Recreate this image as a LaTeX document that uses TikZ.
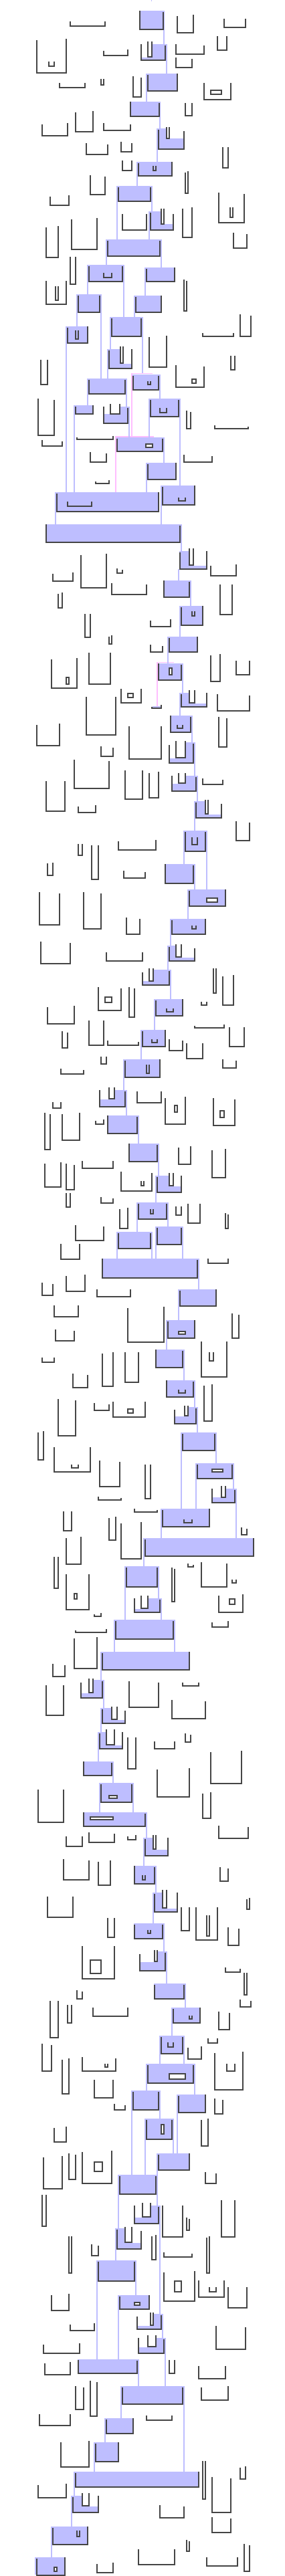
\documentclass[tikz,border=0pt]{standalone}
\usepackage{tikz}
\definecolor{dkgray}{HTML}{454545}
\definecolor{lblue}{HTML}{BEBEFF}
\definecolor{lpink}{HTML}{FFBEFF}
\pgfdeclarelayer{whlayer}
\pgfdeclarelayer{pklayer}
\pgfdeclarelayer{bglayer}
\pgfdeclarelayer{midlayer}
\pgfsetlayers{whlayer,pklayer,bglayer,midlayer,main}
\tikzset{
  ubr/.style={line width=2pt, draw=dkgray, line join=miter, line cap=butt},
  bline/.style={line width=1.33pt, draw=lblue},
  pline/.style={line width=1.33pt, draw=lpink},
  bfill/.style={fill=lblue}
}
\newcommand\myU[5]{\draw[ubr] (#1,#2)--(#1,#5)--(#3,#5)--(#3,#4);}
\newcommand\myR[4]{\draw[ubr,fill=white] (#1,#2) rectangle (#3,#4);}
\newcommand\myB[4]{\begin{pgfonlayer}{bglayer}\fill[bfill] (#1,#2) rectangle (#3,#4);\end{pgfonlayer}}
\newcommand\myW[4]{\begin{pgfonlayer}{midlayer}\fill[white] (#1,#2) rectangle (#3,#4);\end{pgfonlayer}}
\newcommand\myC[3]{\begin{pgfonlayer}{bglayer}\draw[bline] (#1,#2)--(#1,#3);\end{pgfonlayer}}
\begin{document}
\begin{tikzpicture}[x=0.333333pt,y=-0.333333pt]
\begin{pgfonlayer}{whlayer}
\fill[white] (0,0) rectangle (1278,11556);
\end{pgfonlayer}
\useasboundingbox (0,0) rectangle (1278,11556);
% ---------------- crop 1
\begin{scope}
\myC{680}{0}{5}
\myU{315}{96}{470}{96}{116}
\myB{625}{48}{737}{135} \myU{628}{48}{731}{54}{133}
\myC{735}{135}{198}
\myU{796}{72}{866}{66}{146}
\myU{1005}{84}{1101}{84}{122}
\myU{165}{180}{297}{174}{326} \myU{219}{276}{243}{276}{296}
\myU{465}{228}{573}{222}{248}
\myB{633}{198}{749}{270} \myW{633}{198}{683}{258} \myU{633}{198}{741}{204}{271} \myU{663}{186}{681}{186}{256}
\myC{747}{270}{330}
\myU{789}{198}{915}{204}{242}
\myU{975}{162}{1017}{162}{225}
\myU{789}{258}{861}{264}{302}
\myU{267}{372}{381}{372}{393}
\myU{453}{354}{465}{354}{381}
\myU{597}{342}{633}{348}{435}
\myB{655}{330}{797}{410} \myU{663}{336}{795}{330}{409}
\myC{657}{410}{456}
\myU{915}{372}{1035}{372}{447} \myR{945}{404}{993}{422}
\myB{583}{456}{719}{525} \myU{586}{456}{713}{462}{523}
\myC{717}{525}{575}
\myU{831}{462}{861}{462}{519}
\myU{339}{504}{417}{498}{590}
\myU{189}{558}{303}{552}{608}
\myU{465}{552}{585}{558}{584}
\myB{703}{575}{827}{670} \myW{747}{575}{827}{622} \myU{711}{582}{825}{588}{668} \myU{747}{570}{759}{570}{620}
\myC{705}{670}{726}
\myU{387}{642}{483}{648}{692}
\myU{543}{636}{591}{642}{680}
\myU{999}{660}{1023}{660}{752}
\myU{549}{720}{591}{720}{764}
\myB{613}{726}{773}{790} \myU{621}{732}{771}{726}{788} \myU{687}{744}{699}{744}{764}
\myC{615}{790}{834}
\myU{405}{786}{471}{792}{872}
\myU{831}{774}{843}{768}{866}
\myU{225}{882}{309}{876}{920}
\myB{523}{834}{683}{905} \myU{531}{840}{675}{840}{902}
\myC{525}{905}{1074} \myC{681}{905}{948}
\myB{667}{948}{779}{1035} \myW{723}{948}{779}{1005} \myU{675}{954}{777}{960}{1033} \myU{723}{935}{735}{935}{1005}
\myC{669}{1035}{1074}
\myU{819}{935}{861}{930}{1064}
\myU{981}{865}{1095}{870}{998} \myU{1031}{930}{1045}{930}{975}
\myU{549}{960}{657}{960}{1033}
\end{scope}
% ---------------- crop 2
\begin{scope}[yshift=-321pt]
\myU{207}{57}{261}{51}{192}
\myU{321}{21}{435}{15}{156}
\myU{1047}{81}{1107}{87}{150}
\myB{475}{111}{725}{187} \myU{483}{117}{717}{117}{186}
\myC{477}{187}{225} \myC{723}{187}{237}
\myU{315}{189}{339}{189}{312}
\myB{391}{225}{557}{300} \myU{399}{231}{549}{231}{299} \myU{465}{261}{501}{261}{282}
\myC{393}{300}{357} \myC{555}{300}{459}
\myB{649}{237}{785}{300} \myU{657}{243}{783}{237}{299}
\myC{651}{300}{363}
\myU{207}{297}{297}{297}{402} \myU{249}{321}{261}{321}{384}
\myU{825}{291}{837}{297}{432}
\myB{343}{357}{455}{438} \myU{351}{363}{447}{363}{437}
\myC{345}{438}{501} \myC{453}{438}{735}
\myB{601}{363}{725}{438} \myU{609}{369}{723}{363}{437}
\myC{603}{438}{459}
\myB{493}{459}{641}{546} \myU{501}{465}{633}{465}{545}
\myC{495}{546}{603} \myC{639}{546}{711}
\myU{909}{531}{1047}{531}{546}
\myU{1077}{447}{1125}{453}{546}
\myB{295}{501}{395}{577} \myU{303}{507}{393}{501}{576} \myU{339}{519}{351}{519}{558}
\myC{297}{577}{1245}
\myB{481}{603}{593}{690} \myW{539}{603}{593}{669} \myU{489}{609}{591}{603}{689} \myU{539}{591}{553}{591}{666}
\myC{483}{690}{735}
\myU{669}{549}{747}{543}{684}
\myU{183}{651}{213}{651}{762}
\myU{1035}{633}{1053}{633}{696}
\begin{pgfonlayer}{pklayer}
\draw[pline] (683,713)--(591,713)--(591,996);
\draw[pline] (689,996)--(519,996)--(519,1245);
\end{pgfonlayer}
\myB{595}{717}{719}{787} \myU{597}{723}{711}{723}{786} \myU{663}{747}{675}{747}{762}
\myC{717}{787}{825}
\myU{789}{675}{915}{681}{773} \myR{861}{738}{879}{756}
\myB{391}{735}{569}{805} \myU{399}{741}{561}{741}{804}
\myC{393}{805}{855} \myC{567}{805}{861}
\myU{171}{825}{243}{831}{990}
\myB{331}{855}{419}{893} \myU{339}{861}{417}{855}{893}
\myC{333}{893}{1245}
\myB{463}{861}{581}{937} \myW{463}{861}{537}{895} \myU{465}{861}{573}{867}{936} \myU{495}{849}{537}{849}{893}
\myC{579}{937}{999}
\myB{667}{825}{809}{907} \myU{675}{831}{801}{831}{906} \myU{717}{867}{747}{867}{888}
\myC{669}{907}{999} \myC{807}{907}{1215}
\myU{837}{879}{855}{885}{960}
\myU{963}{945}{1113}{951}{960}
\end{scope}
% ---------------- crop 3
\begin{scope}[yshift=-642pt]
\myU{345}{36}{507}{30}{45}
\myU{189}{48}{279}{54}{75}
\myB{521}{36}{737}{100} \myU{525}{42}{729}{42}{99} \myR{655}{67}{683}{81}
\myC{735}{100}{150}
\myU{405}{102}{477}{108}{147}
\myU{825}{114}{951}{120}{147}
\myB{655}{150}{791}{226} \myU{663}{156}{789}{150}{225}
\myC{657}{226}{282}
\myU{429}{234}{489}{228}{243}
\myB{721}{252}{875}{340} \myU{729}{258}{873}{252}{339} \myU{801}{306}{831}{306}{321}
\myC{723}{340}{426}
\myB{247}{282}{713}{370} \myU{255}{288}{711}{282}{369} \myU{303}{324}{411}{324}{345}
\myC{249}{370}{426}
\myB{205}{426}{815}{507} \myU{207}{426}{807}{432}{507}
\myC{813}{507}{546}
\myU{363}{564}{477}{558}{711}
\myU{237}{648}{327}{642}{681}
\myU{525}{624}{549}{630}{645}
\myB{803}{546}{927}{628} \myW{849}{546}{927}{612} \myU{807}{552}{927}{546}{627} \myU{849}{534}{867}{534}{609}
\myC{801}{628}{678}
\myU{945}{612}{1059}{606}{657}
\myU{501}{690}{657}{696}{741}
\myB{733}{678}{857}{754} \myU{735}{678}{849}{684}{753}
\myC{855}{754}{792}
\myU{987}{696}{1041}{696}{831}
\myU{261}{738}{279}{732}{801}
\myB{805}{792}{911}{880} \myU{813}{798}{909}{792}{879} \myU{861}{816}{873}{816}{837}
\myC{807}{880}{930}
\myU{381}{828}{405}{828}{933}
\myU{675}{858}{765}{852}{885}
\myU{489}{930}{501}{924}{964}
\myB{751}{930}{887}{1000} \myU{759}{936}{885}{930}{998}
\myC{753}{1000}{1050}
\end{scope}
% ---------------- crop 4
\begin{scope}[yshift=-963pt]
\myU{675}{3}{729}{9}{36}
\myU{231}{69}{345}{63}{198} \myR{297}{150}{309}{180}
\myU{399}{39}{495}{39}{180}
\begin{pgfonlayer}{pklayer}
\draw[pline] (779,83)--(705,83)--(705,282);
\end{pgfonlayer}
\myB{683}{279}{721}{286} \myU{681}{282}{723}{273}{288}
\myB{709}{87}{821}{163} \myU{711}{87}{813}{93}{162} \myR{759}{107}{771}{137}
\myC{819}{163}{219}
\myU{945}{51}{987}{45}{168}
\myU{1059}{75}{1119}{75}{138}
\myU{543}{201}{633}{201}{264} \myR{573}{222}{597}{240}
\myB{805}{219}{929}{282} \myW{849}{219}{929}{267} \myU{813}{225}{927}{219}{282} \myU{849}{207}{873}{207}{264}
\myC{807}{282}{321}
\myU{975}{225}{1119}{231}{300}
\myU{387}{237}{519}{237}{408}
\myB{763}{321}{863}{397} \myU{765}{321}{855}{327}{396} \myU{795}{363}{819}{363}{378}
\myC{861}{397}{441}
\myU{981}{327}{1017}{333}{462}
\myU{165}{363}{267}{357}{456}
\myU{579}{369}{723}{369}{516}
\myU{453}{459}{507}{465}{504}
\myB{757}{441}{875}{535} \myW{757}{441}{831}{512} \myU{759}{453}{867}{447}{534} \myU{789}{435}{831}{435}{510}
\myC{873}{535}{591}
\myU{333}{519}{489}{525}{648}
\myU{561}{567}{639}{567}{696}
\myU{669}{579}{711}{573}{690}
\myB{769}{591}{887}{661} \myW{769}{591}{831}{627} \myU{771}{591}{879}{597}{660} \myU{801}{579}{831}{579}{624}
\myC{885}{661}{705}
\myU{909}{603}{999}{609}{630}
\myU{207}{615}{291}{615}{750}
\myU{351}{729}{429}{723}{756}
\myB{871}{705}{995}{780} \myW{921}{705}{995}{765} \myU{879}{711}{993}{717}{780} \myU{921}{699}{933}{699}{762}
\myC{873}{780}{837}
\myU{1059}{795}{1119}{801}{882}
\myB{823}{837}{929}{932} \myU{831}{843}{921}{843}{930} \myU{861}{867}{885}{867}{900}
\myC{825}{932}{987} \myC{927}{932}{1101}
\myU{351}{897}{369}{897}{948}
\myU{411}{903}{441}{903}{1056}
\myU{531}{885}{699}{879}{924}
\end{scope}
% ---------------- crop 5
\begin{scope}[yshift=-1284pt]
\myU{213}{21}{237}{18}{75}
\myU{555}{54}{651}{60}{87}
\myB{739}{24}{875}{111} \myU{741}{24}{867}{30}{111}
\myC{873}{111}{138}
\myB{841}{138}{1013}{213} \myU{849}{144}{1011}{138}{213} \myR{927}{176}{975}{194}
\myC{843}{213}{270}
\myU{177}{150}{267}{156}{297}
\myU{375}{150}{453}{156}{315}
\myU{567}{264}{627}{270}{339}
\myB{763}{270}{923}{340} \myU{771}{276}{921}{270}{339} \myU{861}{300}{879}{300}{315}
\myC{765}{340}{390}
\myU{183}{372}{315}{378}{471}
\myU{477}{420}{639}{420}{459}
\myB{751}{390}{875}{460} \myW{789}{390}{875}{444} \myU{759}{396}{873}{402}{459} \myU{789}{384}{813}{384}{441}
\myC{753}{460}{498}
\myB{637}{498}{767}{567} \myW{637}{498}{687}{550} \myU{639}{510}{759}{504}{567} \myU{669}{492}{687}{492}{549}
\myC{765}{567}{630}
\myU{957}{492}{969}{492}{603}
\myU{999}{528}{1047}{522}{657}
\myU{441}{576}{543}{582}{681} \myR{471}{621}{501}{645}
\myU{579}{576}{603}{582}{711}
\myU{903}{642}{927}{642}{657}
\myB{691}{630}{821}{705} \myU{699}{636}{819}{630}{705} \myU{747}{672}{777}{672}{687}
\myC{693}{705}{768}
\myU{213}{666}{333}{660}{741}
\myU{873}{750}{1005}{744}{759}
\myU{1029}{756}{1095}{756}{843}
\myU{279}{774}{303}{780}{849}
\myU{399}{726}{465}{726}{837}
\myU{483}{816}{621}{822}{837}
\myB{631}{768}{743}{843} \myU{639}{774}{741}{768}{843} \myU{681}{810}{705}{810}{825}
\myC{633}{843}{900}
\myU{759}{810}{819}{816}{861}
\myU{837}{828}{909}{828}{897}
\myU{453}{888}{477}{888}{921}
\myU{999}{900}{1059}{906}{939}
\myB{553}{900}{719}{981} \myU{561}{906}{717}{900}{981} \myU{657}{924}{669}{924}{963}
\myC{555}{981}{1038}
\myU{273}{942}{375}{948}{966}
\end{scope}
% ---------------- crop 6
\begin{scope}[yshift=-1605pt]
\myB{445}{75}{569}{150} \myW{445}{75}{513}{117} \myU{447}{75}{561}{81}{150} \myU{489}{63}{513}{63}{114}
\myC{567}{150}{189}
\myU{615}{81}{723}{81}{132}
\myU{741}{111}{831}{105}{228} \myR{783}{144}{795}{174}
\myU{957}{111}{1053}{117}{234} \myR{987}{168}{1005}{198}
\myU{237}{129}{273}{129}{156}
\myU{201}{177}{225}{183}{342}
\myU{279}{183}{357}{177}{300}
\myU{429}{213}{465}{207}{228}
\myB{481}{189}{623}{270} \myU{483}{189}{615}{195}{270}
\myC{621}{270}{315}
\myB{577}{315}{713}{398} \myU{579}{315}{705}{321}{396}
\myC{711}{398}{459}
\myU{801}{333}{855}{327}{408}
\myU{951}{345}{1011}{339}{468}
\myU{201}{405}{273}{399}{510}
\myU{297}{405}{333}{411}{522}
\myU{369}{393}{507}{393}{426}
\myU{543}{441}{681}{447}{528} \myU{633}{483}{645}{483}{504}
\myB{697}{459}{815}{535} \myW{759}{459}{815}{507} \myU{705}{465}{813}{459}{534} \myU{759}{447}{777}{447}{504}
\myC{699}{535}{579}
\myU{297}{537}{315}{537}{600}
\myU{453}{555}{507}{561}{582}
\myB{613}{579}{755}{655} \myU{621}{585}{747}{585}{654} \myU{675}{609}{687}{609}{630}
\myC{615}{655}{711} \myC{753}{655}{687}
\myU{537}{609}{573}{603}{696}
\myU{789}{597}{813}{597}{636}
\myU{843}{585}{897}{585}{672}
\myU{1011}{627}{1023}{633}{696}
\myU{339}{681}{465}{687}{750}
\myB{697}{687}{821}{769} \myU{705}{693}{813}{693}{768}
\myC{699}{769}{831} \myC{819}{769}{831}
\myB{523}{711}{683}{787} \myU{531}{717}{675}{717}{786}
\myC{525}{787}{831} \myC{681}{787}{831}
\myU{273}{765}{357}{765}{834}
\myB{457}{831}{893}{918} \myU{459}{831}{885}{837}{917}
\myC{891}{918}{969}
\myU{933}{831}{1023}{831}{852}
\myU{189}{939}{237}{945}{996}
\myU{297}{909}{381}{903}{978}
\end{scope}
% ---------------- crop 7
\begin{scope}[yshift=-1926pt]
\myU{435}{6}{585}{6}{39}
\myB{799}{6}{971}{82} \myU{807}{12}{969}{6}{81}
\myC{801}{82}{144}
\myU{243}{78}{351}{78}{129}
\myU{573}{90}{735}{84}{243}
\myU{1041}{114}{1071}{120}{225}
\myB{745}{144}{875}{225} \myU{753}{150}{873}{144}{225} \myR{801}{194}{831}{207}
\myC{747}{225}{276}
\myU{249}{186}{333}{192}{237}
\myU{903}{240}{1017}{240}{399} \myU{939}{288}{957}{288}{327}
\myU{189}{312}{243}{312}{333}
\myB{697}{276}{827}{358} \myU{699}{276}{819}{282}{357}
\myC{825}{358}{414}
\myU{459}{294}{507}{288}{441}
\myU{561}{288}{621}{288}{423}
\myU{327}{384}{393}{390}{447}
\myB{745}{414}{875}{490} \myU{747}{414}{867}{420}{489} \myU{801}{456}{831}{456}{471}
\myC{873}{490}{534}
\myU{915}{438}{951}{432}{597}
\myU{261}{498}{339}{504}{663}
\myU{423}{516}{489}{522}{549}
\myU{507}{510}{651}{510}{579} \myR{573}{543}{597}{561}
\myB{781}{534}{887}{610} \myW{781}{534}{843}{575} \myU{783}{546}{879}{540}{609} \myU{829}{528}{843}{528}{573}
\myC{885}{610}{648}
\myU{171}{648}{195}{642}{771}
\myU{243}{714}{405}{714}{825} \myU{321}{792}{351}{792}{807}
\myB{811}{648}{971}{730} \myU{819}{654}{963}{654}{729}
\myC{813}{730}{990} \myC{969}{730}{786}
\myU{447}{774}{537}{780}{891}
\myU{651}{792}{675}{792}{945}
\myB{877}{786}{1049}{857} \myU{885}{792}{1041}{792}{855} \myR{951}{812}{999}{825}
\myC{879}{857}{990} \myC{1047}{857}{900}
\myU{441}{936}{543}{942}{951}
\myB{949}{900}{1061}{963} \myW{949}{900}{1011}{940} \myU{951}{900}{1053}{906}{963} \myU{993}{888}{1011}{888}{939}
\myC{1059}{963}{1122}
\end{scope}
% ---------------- crop 8
\begin{scope}[yshift=-2247pt]
\myU{603}{27}{705}{33}{42}
\myB{721}{27}{941}{109} \myU{729}{33}{939}{27}{108} \myU{825}{75}{861}{75}{90}
\myC{723}{109}{159}
\myU{285}{39}{321}{39}{126}
\myU{489}{69}{519}{63}{168}
\myU{543}{93}{633}{87}{252}
\myU{1083}{111}{1107}{117}{144}
\myB{643}{159}{1139}{241} \myU{651}{165}{1137}{159}{240}
\myC{645}{241}{285}
\myU{297}{159}{363}{153}{276}
\myU{243}{243}{261}{243}{384}
\myU{843}{273}{867}{279}{288}
\myU{903}{267}{1017}{273}{378}
\myU{1041}{345}{1059}{345}{360}
\myB{559}{285}{713}{379} \myU{567}{291}{705}{291}{378}
\myC{561}{379}{525} \myC{711}{379}{429}
\myU{771}{291}{783}{297}{444}
\myU{297}{321}{399}{321}{480} \myR{333}{408}{345}{432}
\myB{601}{429}{725}{492} \myW{601}{429}{663}{477} \myU{603}{429}{717}{435}{492} \myU{633}{417}{663}{417}{474}
\myC{723}{492}{525}
\myU{981}{417}{1089}{411}{492} \myR{1029}{431}{1053}{455}
\myU{423}{501}{453}{495}{510}
\myU{951}{537}{1023}{531}{558}
\myU{339}{573}{477}{567}{582}
\myB{511}{525}{785}{612} \myU{519}{531}{777}{531}{612}
\myC{513}{612}{669} \myC{783}{612}{669}
\myU{333}{609}{435}{603}{744}
\myB{451}{669}{851}{751} \myU{459}{675}{849}{669}{750}
\myC{453}{751}{795}
\myU{237}{723}{291}{729}{780}
\myU{819}{807}{891}{807}{822}
\myB{361}{795}{467}{875} \myW{361}{795}{417}{855} \myU{363}{807}{459}{801}{876} \myU{399}{789}{417}{789}{852}
\myC{465}{875}{921}
\myU{579}{801}{711}{807}{918}
\myU{207}{819}{285}{819}{954}
\myB{451}{921}{563}{990} \myW{501}{921}{563}{974} \myU{459}{927}{561}{933}{990} \myU{501}{915}{525}{915}{972}
\myC{453}{990}{1029}
\myU{771}{885}{921}{891}{969}
\end{scope}
% ---------------- crop 9
\begin{scope}[yshift=-2568pt]
\myB{439}{66}{551}{142} \myW{477}{66}{551}{125} \myU{447}{72}{549}{66}{142} \myU{477}{54}{513}{54}{123}
\myC{441}{142}{198}
\myU{573}{90}{609}{90}{231}
\myU{693}{108}{783}{108}{141}
\myU{831}{72}{855}{78}{111}
\myU{945}{156}{1083}{150}{297}
\myB{373}{198}{509}{262} \myU{375}{198}{501}{204}{261}
\myC{507}{262}{294}
\myU{705}{234}{849}{228}{357}
\myU{171}{324}{285}{324}{471}
\myB{445}{294}{599}{382} \myU{453}{300}{591}{300}{381} \myR{489}{350}{525}{364}
\myC{447}{382}{426} \myC{597}{382}{426}
\myU{909}{342}{945}{336}{453}
\myB{373}{426}{659}{490} \myU{375}{426}{651}{432}{489} \myR{405}{446}{507}{459}
\myC{657}{490}{540}
\myU{981}{486}{1113}{492}{543}
\myU{297}{534}{369}{534}{579}
\myU{399}{516}{513}{522}{561}
\myU{573}{534}{609}{528}{549}
\myB{643}{540}{755}{622} \myW{687}{540}{755}{594} \myU{651}{546}{753}{540}{621} \myU{687}{528}{699}{528}{591}
\myC{645}{622}{666}
\myU{285}{636}{399}{642}{729}
\myU{441}{648}{495}{642}{753}
\myB{601}{666}{701}{748} \myU{603}{666}{693}{672}{747} \myU{639}{708}{651}{708}{729}
\myC{699}{748}{786}
\myU{987}{672}{1023}{678}{735}
\myU{213}{804}{327}{804}{897}
\myB{685}{786}{797}{873} \myW{729}{786}{797}{858} \myU{693}{792}{795}{786}{873} \myU{729}{774}{747}{774}{855}
\myC{687}{873}{924}
\myU{1107}{816}{1119}{810}{861}
\myU{813}{852}{849}{852}{957}
\myU{879}{852}{975}{852}{999} \myU{927}{888}{939}{888}{981}
\myU{483}{900}{513}{900}{987}
\myU{1023}{942}{1071}{948}{1023}
\myB{601}{924}{737}{993} \myU{603}{930}{729}{930}{993} \myU{663}{954}{675}{954}{969}
\myC{735}{993}{1050}
\end{scope}
% ---------------- crop 10
\begin{scope}[yshift=-2889pt]
\myU{369}{63}{513}{63}{210} \myR{405}{126}{453}{186}
\myB{625}{87}{749}{175} \myW{625}{87}{705}{135} \myU{627}{99}{741}{93}{174} \myU{693}{81}{705}{81}{132}
\myC{747}{175}{231}
\myU{1011}{159}{1077}{165}{180}
\myU{1095}{183}{1107}{183}{282}
\myB{691}{231}{833}{300} \myU{693}{237}{825}{237}{300}
\myC{831}{300}{339}
\myU{345}{261}{369}{267}{300}
\myU{225}{309}{261}{309}{474}
\myU{303}{327}{321}{327}{408}
\myU{417}{339}{573}{339}{378}
\myU{1077}{303}{1125}{309}{336}
\myB{769}{339}{899}{410} \myU{777}{345}{897}{339}{408} \myU{849}{375}{861}{375}{390}
\myC{771}{410}{465}
\myU{981}{357}{1029}{363}{438}
\myB{715}{465}{827}{547} \myU{723}{471}{819}{471}{546} \myU{753}{495}{777}{495}{516}
\myC{717}{547}{591} \myC{825}{547}{591}
\myU{933}{477}{975}{477}{498}
\myU{843}{519}{903}{513}{570}
\myU{189}{501}{231}{507}{624}
\myU{279}{573}{309}{567}{726}
\myU{369}{561}{519}{567}{624} \myU{471}{591}{483}{591}{606}
\myU{963}{543}{1089}{537}{708} \myU{1017}{591}{1053}{591}{624}
\myB{655}{591}{875}{680} \myU{663}{597}{867}{597}{678} \myR{759}{635}{831}{659}
\myC{657}{680}{711} \myC{873}{680}{729}
\myU{423}{663}{507}{663}{744}
\myB{589}{711}{719}{799} \myU{597}{717}{711}{717}{798}
\myC{591}{799}{1089} \myC{717}{799}{837}
\myB{793}{729}{923}{810} \myU{801}{735}{921}{729}{810}
\myC{795}{810}{993}
\myU{513}{771}{561}{777}{798}
\myU{963}{747}{999}{753}{816}
\myB{649}{837}{779}{930} \myU{657}{843}{771}{843}{930} \myR{723}{863}{735}{905}
\myC{651}{930}{1089} \myC{777}{930}{993}
\myU{903}{843}{933}{837}{960}
\myU{243}{879}{297}{873}{942}
\end{scope}
% ---------------- crop 11
\begin{scope}[yshift=-3210pt]
\myU{195}{48}{279}{42}{189}
\myU{309}{30}{339}{36}{147}
\myU{369}{24}{501}{18}{165} \myR{423}{69}{459}{111}
\myB{703}{30}{851}{105} \myU{711}{36}{849}{30}{105}
\myC{705}{105}{264}
\myU{921}{114}{969}{120}{165}
\myB{529}{126}{703}{214} \myU{537}{132}{699}{132}{213}
\myC{531}{214}{366}
\myU{189}{216}{207}{216}{357}
\myB{601}{264}{719}{346} \myW{601}{264}{675}{318} \myU{603}{264}{711}{270}{345} \myU{639}{252}{675}{252}{315}
\myC{717}{346}{750}
\myU{729}{264}{819}{264}{405}
\myU{837}{318}{849}{324}{375}
\myU{993}{240}{1053}{240}{405}
\myB{517}{366}{635}{460} \myW{561}{366}{635}{432} \myU{525}{372}{633}{378}{459} \myU{561}{360}{591}{360}{429}
\myC{519}{460}{510}
\myU{309}{402}{321}{402}{567}
\myU{411}{438}{441}{444}{489}
\myU{681}{402}{699}{396}{507}
\myU{735}{474}{861}{480}{495}
\myU{927}{408}{939}{402}{567}
\myB{433}{510}{611}{604} \myU{441}{516}{603}{516}{603}
\myC{435}{604}{954} \myC{609}{604}{666}
\myU{735}{564}{873}{558}{693} \myR{783}{603}{813}{651}
\myU{891}{600}{1005}{600}{675} \myU{939}{630}{969}{630}{651}
\myU{1023}{630}{1107}{630}{723}
\myU{231}{666}{309}{660}{735}
\myB{529}{666}{671}{730} \myU{537}{672}{669}{666}{729} \myR{603}{699}{627}{711}
\myC{531}{730}{954}
\myB{613}{750}{731}{820} \myW{613}{750}{687}{804} \myU{615}{762}{723}{756}{819} \myU{675}{744}{687}{744}{801}
\myC{729}{820}{858}
\myU{969}{804}{1101}{810}{909}
\myU{315}{798}{423}{792}{825}
\myB{619}{858}{743}{928} \myW{619}{858}{699}{900} \myU{621}{858}{735}{864}{927} \myU{663}{846}{699}{846}{897}
\myC{741}{928}{1074}
\myU{195}{888}{357}{882}{927}
\myB{349}{954}{623}{1017} \myU{351}{957}{615}{960}{1017}
\myC{621}{1017}{1074}
\myU{759}{957}{783}{957}{1017}
\end{scope}
% ---------------- crop 12
\begin{scope}[yshift=-3531pt]
\myU{201}{9}{315}{3}{60}
\myU{891}{21}{1011}{21}{78}
\myB{541}{111}{827}{193} \myU{549}{117}{819}{117}{192}
\myC{543}{193}{255} \myC{825}{193}{495}
\myU{339}{111}{375}{117}{216}
\myU{405}{87}{435}{93}{246}
\myU{903}{117}{1023}{111}{174}
\myU{177}{237}{315}{237}{288}
\myU{657}{243}{771}{243}{264}
\myB{469}{255}{599}{325} \myU{477}{261}{597}{255}{324}
\myC{471}{325}{363}
\myU{273}{363}{399}{357}{474}
\myB{421}{363}{533}{452} \myU{429}{369}{531}{363}{450}
\myC{423}{452}{495}
\myU{909}{447}{921}{447}{618}
\myU{1077}{477}{1101}{471}{528}
\myB{331}{495}{893}{566} \myU{339}{501}{891}{495}{564}
\myC{333}{566}{603}
\myU{951}{519}{1035}{525}{678}
\myU{171}{555}{297}{549}{612}
\myB{319}{603}{443}{680} \myW{369}{603}{443}{651} \myU{327}{609}{441}{603}{678} \myU{369}{591}{399}{591}{648}
\myC{321}{680}{741}
\myU{717}{645}{825}{651}{702}
\myU{951}{699}{1035}{705}{768}
\myB{229}{741}{395}{824} \myU{237}{747}{393}{741}{822} \myU{345}{759}{357}{759}{786}
\myC{231}{824}{879}
\myU{837}{801}{849}{807}{852}
\myU{1095}{819}{1119}{825}{942}
\myU{621}{843}{783}{843}{912}
\myU{927}{879}{1065}{879}{918}
\myB{157}{879}{293}{957} \myU{165}{885}{291}{879}{960} \myR{243}{923}{255}{941}
\myU{435}{909}{507}{903}{948}
\end{scope}
\end{tikzpicture}
\end{document}
